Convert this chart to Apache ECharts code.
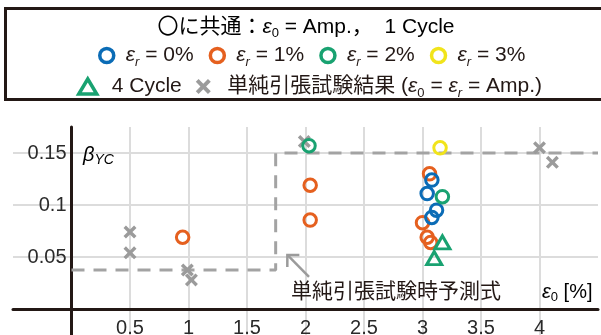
<!DOCTYPE html>
<html>
<head>
<meta charset="utf-8">
<script src="https://cdn.jsdelivr.net/npm/echarts@6/dist/echarts.min.js"></script>
<style>
  html, body { margin: 0; padding: 0; background: #fff; }
  #chart { width: 601px; height: 335px; }
</style>
</head>
<body>
<div id="chart"></div>
<script>
// ε0 [%] / βYC pairs for each test group
const er0 = [[3.08, 0.124], [3.04, 0.111], [3.12, 0.095], [3.08, 0.088]];
const er1 = [[0.95, 0.069], [2.04, 0.119], [2.04, 0.0855], [3.0, 0.083], [3.04, 0.069], [3.07, 0.064], [3.06, 0.130]];
const er2 = [[2.03, 0.157], [3.17, 0.108]];
const er3 = [[3.15, 0.155]];
const cycle4 = [[3.17, 0.064], [3.10, 0.049]];
const tensile = [[0.5, 0.074], [0.5, 0.054], [0.99, 0.0375], [1.025, 0.028], [1.99, 0.161], [4.0, 0.155], [4.11, 0.141]];

// prediction formula from simple tensile tests (step)
const stepX = [0, 1.745, 1.745, 4.5];
const stepY = [0.0375, 0.0375, 0.15, 0.15];

// annotation arrow: tail -> head (data coordinates)
const arrowTail = [2.03, 0.031];
const arrowHead = [1.845, 0.052];

const xTicks = ['0.5', '1', '1.5', '2', '2.5', '3', '3.5', '4'];
const yTicks = ['0.05', '0.1', '0.15'];

const FONT = '"Liberation Sans", Arial, "Noto Sans CJK JP", sans-serif';
const INK = '#231815';
const BLUE = '#0b6cb6', ORANGE = '#e5601f', GREEN = '#19a271', YELLOW = '#f1e41b', GRAY = '#9b9b9b';
const CROSS = 'path://M3,0 L8,5 L13,0 L16,3 L11,8 L16,13 L13,16 L8,11 L3,16 L0,13 L5,8 L0,3 Z';

const names = {
  er0: 'εr = 0%', er1: 'εr = 1%', er2: 'εr = 2%', er3: 'εr = 3%',
  c4: '4 Cycle', ten: '単純引張試験結果 (ε0 = εr = Amp.)'
};

const legendRich = {
  e: { fontFamily: FONT, fontStyle: 'italic', fontSize: 21, color: INK, lineHeight: 26 },
  ep: { fontFamily: FONT, fontStyle: 'italic', fontSize: 21, color: INK, lineHeight: 26, padding: [0, 0, 0, 7] },
  s: { fontFamily: FONT, fontStyle: 'italic', fontSize: 13, color: INK, lineHeight: 14, verticalAlign: 'bottom' },
  s0: { fontFamily: FONT, fontSize: 13, color: INK, lineHeight: 14, verticalAlign: 'bottom' },
  t: { fontFamily: FONT, fontSize: 21, color: INK, lineHeight: 26 },
  c: { fontFamily: FONT, fontSize: 21, color: INK, lineHeight: 26, padding: [0, 0, 0, 10] },
  j: { fontFamily: FONT, fontSize: 21, color: INK, lineHeight: 26, padding: [0, 0, 0, 10] }
};
function legendText(name) {
  if (name === names.c4) return '{c|4 Cycle}';
  if (name === names.ten) return '{j|単純引張試験結果 (}{e|ε}{s0|0}{t| = }{e|ε}{s|r}{t| = Amp.)}';
  return '{ep|ε}{s|r}{t|' + name.slice(2) + '}';
}

function ring(name, data, color) {
  return {
    name: name, type: 'scatter', data: data,
    symbol: 'circle', symbolSize: 12.5, z: 4,
    itemStyle: { color: 'transparent', borderColor: color, borderWidth: 3, opacity: 1 }
  };
}

// plot frame: x from -0.5 to 4.5 over 585 px, y from -0.05 to 0.175 over 234 px
const GRID = { left: 13, right: 3, top: 127, bottom: -26 };
const X_MIN = -0.5, X_MAX = 4.5, Y_MIN = -0.05, Y_MAX = 0.175;
const pxPerX = (601 - GRID.left - GRID.right) / (X_MAX - X_MIN);
const pxPerY = (335 - GRID.top - GRID.bottom) / (Y_MAX - Y_MIN);
// shift both axes (line + labels) onto the zero lines
const yAxisShift = -(0 - X_MIN) * pxPerX;
const xAxisShift = -(0 - Y_MIN) * pxPerY;

const chart = echarts.init(document.getElementById('chart'), null, { renderer: 'canvas' });

const option = {
  animation: false,
  backgroundColor: '#fff',
  textStyle: { fontFamily: FONT },
  grid: Object.assign({ containLabel: false, outerBoundsMode: 'none' }, GRID),
  xAxis: {
    type: 'value', min: X_MIN, max: X_MAX, interval: 0.5,
    position: 'bottom', offset: xAxisShift,
    axisLine: { onZero: false, lineStyle: { color: INK, width: 3 } },
    axisTick: { show: false },
    axisLabel: {
      fontSize: 20, color: '#2a2a2a', fontFamily: FONT, margin: 9,
      formatter: v => { const s = String(+v.toFixed(2)); return xTicks.includes(s) ? s : ''; }
    },
    splitLine: { show: true, showMinLine: false, showMaxLine: false, lineStyle: { color: '#dcdcdc', width: 2 } }
  },
  yAxis: {
    type: 'value', min: Y_MIN, max: Y_MAX, interval: 0.05,
    position: 'left', offset: yAxisShift,
    axisLine: { onZero: false, lineStyle: { color: INK, width: 3 } },
    axisTick: { show: false },
    axisLabel: {
      fontSize: 20, color: '#2a2a2a', fontFamily: FONT, margin: 5,
      formatter: v => { const s = String(+v.toFixed(3)); return yTicks.includes(s) ? s : ''; }
    },
    splitLine: { show: true, showMinLine: false, showMaxLine: false, lineStyle: { color: '#dcdcdc', width: 2 } }
  },
  legend: [
    {
      data: [names.er0, names.er1, names.er2, names.er3].map(n => ({ name: n })),
      left: 98, top: 45, padding: 0, itemGap: 15,
      itemWidth: 14, itemHeight: 14,
      itemStyle: { borderWidth: 3.5, opacity: 1 },
      formatter: legendText,
      textStyle: { rich: legendRich },
      selectedMode: false
    },
    {
      data: [
        { name: names.c4, itemStyle: { borderWidth: 3.5, opacity: 1 } },
        { name: names.ten, itemStyle: { borderWidth: 0, opacity: 1 } }
      ],
      left: 77, top: 76, padding: 0, itemGap: 14,
      itemWidth: 18, itemHeight: 15,
      formatter: legendText,
      textStyle: { rich: legendRich },
      selectedMode: false
    }
  ],
  series: [
    {
      name: 'step', type: 'line', z: 2,
      data: stepX.map((x, i) => [x, stepY[i]]),
      symbol: 'none', silent: true,
      lineStyle: { color: '#a3a3a3', width: 3, type: [13, 9] }
    },
    {
      name: names.ten, type: 'scatter', data: tensile, z: 3,
      symbol: CROSS, symbolSize: 13, symbolKeepAspect: true,
      itemStyle: { color: GRAY, opacity: 1 }
    },
    ring(names.er1, er1, ORANGE),
    ring(names.er0, er0, BLUE),
    ring(names.er2, er2, GREEN),
    ring(names.er3, er3, YELLOW),
    {
      name: names.c4, type: 'scatter', data: cycle4, z: 5,
      symbol: 'triangle', symbolSize: [15, 13],
      itemStyle: { color: 'transparent', borderColor: GREEN, borderWidth: 3, opacity: 1 }
    }
  ]
};

chart.setOption(option);

// annotations: legend frame, heading line, axis captions, arrow
const tip = chart.convertToPixel({ gridIndex: 0 }, arrowHead);
const tail = chart.convertToPixel({ gridIndex: 0 }, arrowTail);
const ang = Math.atan2(tail[1] - tip[1], tail[0] - tip[0]);
const leg = 12, spread = Math.PI / 4;
const p1 = [tip[0] + leg * Math.cos(ang - spread), tip[1] + leg * Math.sin(ang - spread)];
const p2 = [tip[0] + leg * Math.cos(ang + spread), tip[1] + leg * Math.sin(ang + spread)];

chart.setOption({
  graphic: [
    {
      type: 'rect', z: 10,
      shape: { x: 5.5, y: 8.5, width: 610, height: 91 },
      style: { fill: 'none', stroke: INK, lineWidth: 3 }
    },
    {
      type: 'text', z: 10, x: 306, y: 27,
      style: {
        text: '{t|〇に共通：}{e|ε}{s0|0}{t| = Amp.，  1 Cycle}',
        align: 'center',
        verticalAlign: 'middle',
        rich: legendRich
      }
    },
    {
      type: 'text', z: 10, x: 83, y: 155,
      style: {
        text: '{b|β}{y|YC}',
        verticalAlign: 'middle',
        rich: {
          b: { fontFamily: FONT, fontStyle: 'italic', fontSize: 20, color: INK, lineHeight: 24 },
          y: { fontFamily: FONT, fontStyle: 'italic', fontSize: 14, color: INK, lineHeight: 15, verticalAlign: 'bottom' }
        }
      }
    },
    {
      type: 'text', z: 10, x: 291, y: 292,
      style: {
        text: '単純引張試験時予測式',
        font: '21px ' + FONT, fill: INK, verticalAlign: 'middle'
      }
    },
    {
      type: 'text', z: 10, x: 542, y: 292,
      style: {
        text: '{e|ε}{s|0}{t| [%]}',
        verticalAlign: 'middle',
        rich: {
          e: { fontFamily: FONT, fontStyle: 'italic', fontSize: 20, color: INK, lineHeight: 24 },
          s: { fontFamily: FONT, fontSize: 13, color: INK, lineHeight: 14, verticalAlign: 'bottom' },
          t: { fontFamily: FONT, fontSize: 20, color: INK, lineHeight: 24 }
        }
      }
    },
    {
      type: 'polyline', z: 3,
      shape: { points: [tail, tip] },
      style: { stroke: '#9b9b9b', lineWidth: 2.5, fill: null }
    },
    {
      type: 'polyline', z: 3,
      shape: { points: [p1, tip, p2] },
      style: { stroke: '#9b9b9b', lineWidth: 2.5, fill: null }
    }
  ]
});
</script>
</body>
</html>
